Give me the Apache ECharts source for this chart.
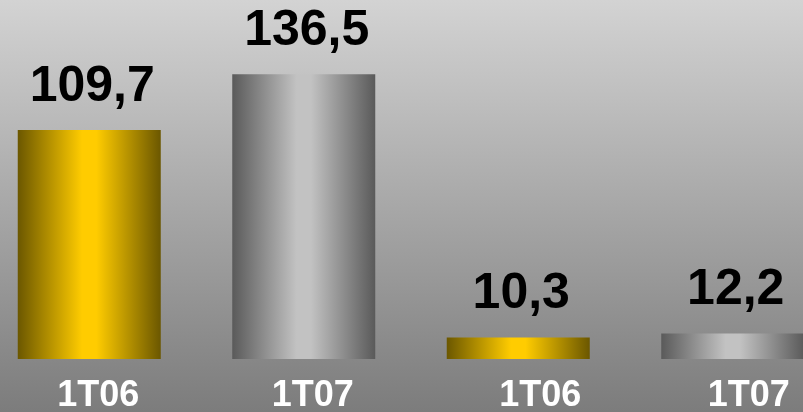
<!DOCTYPE html>
<html>
<head>
<meta charset="utf-8">
<script src="https://cdn.jsdelivr.net/npm/echarts@6/dist/echarts.min.js"></script>
<style>
html, body { margin: 0; padding: 0; }
#chart { width: 803px; height: 412px; }
</style>
</head>
<body>
<div id="chart"></div>
<script>
// données
var categories = ["1T06", "1T07", "1T06", "1T07"];
var values = [109.7, 136.5, 10.3, 12.2];
var labelShift = [18, 18, 44, 32]; // décalage des étiquettes de l'axe

function barGradient(dark, light) {
  return new echarts.graphic.LinearGradient(0, 0, 1, 0, [
    { offset: 0, color: dark },
    { offset: 0.45, color: light },
    { offset: 0.55, color: light },
    { offset: 1, color: dark },
  ]);
}

var gold = barGradient("#6b5700", "#ffcc00");
var grey = barGradient("#5a5a5a", "#c2c2c2");

var myChart = echarts.init(document.getElementById("chart"));
myChart.setOption({
  animation: false,
  backgroundColor: new echarts.graphic.LinearGradient(0, 0, 0, 1, [
    { offset: 0, color: "#d3d3d3" },
    { offset: 1, color: "#7c7c7c" },
  ]),
  grid: {
    left: -18,
    width: 858,
    top: 46,
    bottom: 53,
    containLabel: false,
    outerBoundsMode: "none",
  },
  xAxis: {
    type: "category",
    data: categories.map(function (c, i) {
      return { value: c, textStyle: { padding: [0, 0, 0, labelShift[i]] } };
    }),
    axisLine: { show: false },
    axisTick: { show: false },
    axisLabel: {
      color: "#ffffff",
      fontFamily: "Liberation Sans",
      fontWeight: "bold",
      fontSize: 36,
      margin: 19,
    },
  },
  yAxis: {
    type: "value",
    min: 0,
    max: 150,
    show: false,
  },
  series: [
    {
      type: "bar",
      barWidth: 143,
      data: values.map(function (v, i) {
        return { value: v, itemStyle: { color: i % 2 === 0 ? gold : grey } };
      }),
      label: {
        show: true,
        position: "top",
        distance: 18,
        offset: [3, 0],
        color: "#000000",
        fontFamily: "Liberation Sans",
        fontWeight: "bold",
        fontSize: 50,
        formatter: function (p) {
          return String(p.value).replace(".", ",");
        },
      },
    },
  ],
});
</script>
</body>
</html>
